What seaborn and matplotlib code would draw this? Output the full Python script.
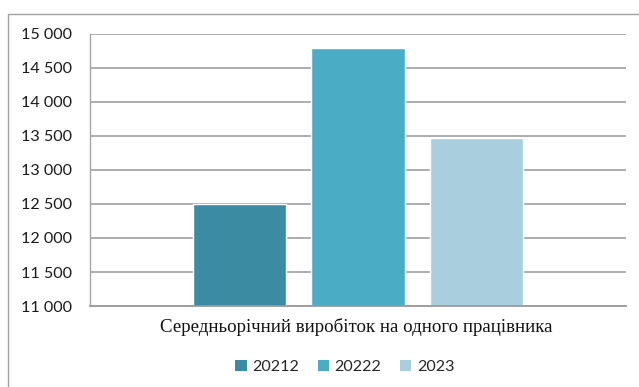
import matplotlib
matplotlib.use("Agg")
import matplotlib.pyplot as plt
from matplotlib.patches import Rectangle, Patch
from matplotlib.ticker import FuncFormatter
import seaborn as sns
import pandas as pd

# Data
metric = "Середньорічний виробіток на одного працівника"
years = ["20212", "20222", "2023"]
values = [12500, 14795, 13465]
colors = ["#3B8BA3", "#4BACC6", "#A9CFDE"]
y_ticks = [11000, 11500, 12000, 12500, 13000, 13500, 14000, 14500, 15000]

df = pd.DataFrame({"metric": [metric] * len(years), "year": years, "value": values})

sns.set_theme(style="white")
plt.rcParams["font.family"] = ["Lato", "DejaVu Sans"]

W, H = 639, 387
fig = plt.figure(figsize=(W / 100, H / 100), dpi=100)
ax = fig.add_axes([90 / W, 1 - 306 / H, (626 - 90) / W, (306 - 34) / H])

sns.barplot(data=df, x="metric", y="value", hue="year", hue_order=years,
            palette=colors, width=0.663, gap=0.21, saturation=1,
            ax=ax, legend=False)

ax.set_ylim(11000, 15000)
ax.set_yticks(y_ticks)
ax.yaxis.set_major_formatter(FuncFormatter(lambda v, p: f"{int(v):,}".replace(",", " ")))
ax.tick_params(axis="y", length=0, pad=13, labelsize=11.6, labelcolor="#1a1a1a")
ax.tick_params(axis="x", length=0, labelbottom=False)
ax.yaxis.grid(True, color="#A6A6A6", linewidth=1.3)
ax.set_axisbelow(True)
for side in ["top", "right"]:
    ax.spines[side].set_visible(False)
ax.spines["left"].set_color("#A6A6A6")
ax.spines["left"].set_linewidth(1.0)
ax.spines["bottom"].set_color("#9A9A9A")
ax.spines["bottom"].set_linewidth(1.3)
ax.set_ylabel("")
ax.set_xlabel("")

# Category caption in serif
fig.text(356 / W, 1 - 327 / H, metric, ha="center", va="center",
         fontsize=13.6, family=["Liberation Serif", "DejaVu Serif"], color="#111111")

# Legend below the caption
handles = [Patch(facecolor=c, edgecolor="none", label=y) for y, c in zip(years, colors)]
fig.legend(handles=handles, loc="center", bbox_to_anchor=(345 / W, 1 - 367 / H),
           ncol=3, frameon=False, fontsize=11.6, handlelength=0.7, handleheight=0.7,
           handletextpad=0.35, columnspacing=1.15, borderaxespad=0)

# Outer chart frame
fig.patches.append(Rectangle((8 / W, -0.1), 1.2, 1.1 - 14 / H, transform=fig.transFigure,
                             fill=False, edgecolor="#A0A0A0", linewidth=1.0))

fig.savefig("out.png", dpi=100)
